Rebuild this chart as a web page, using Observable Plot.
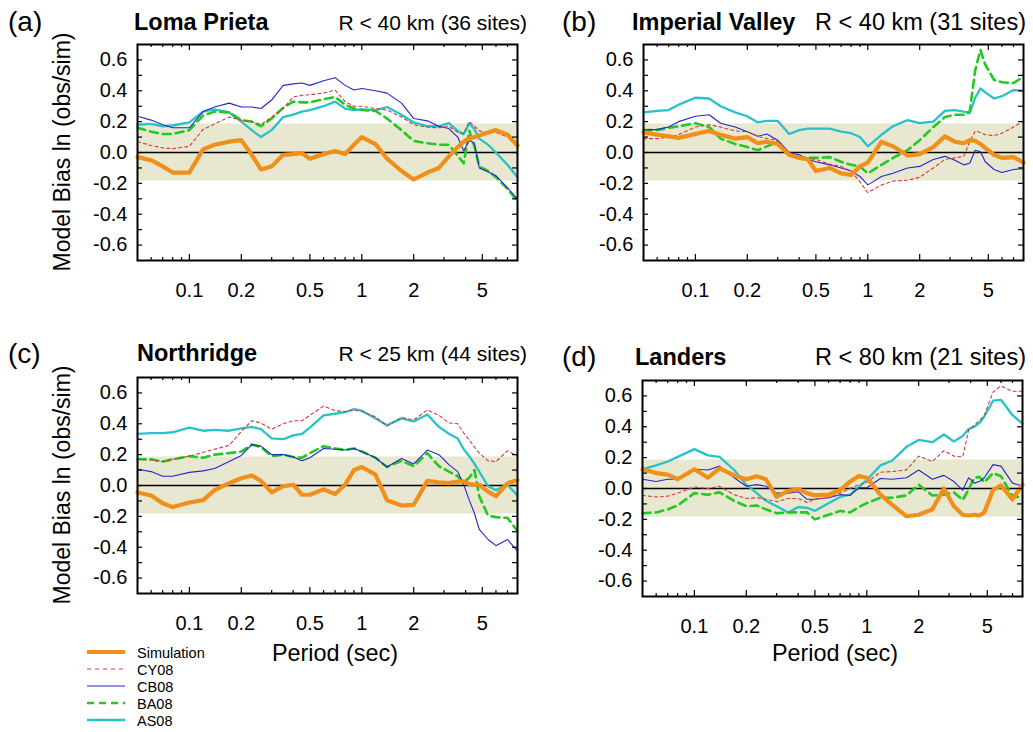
<!DOCTYPE html>
<html>
<head>
<meta charset="utf-8">
<script src="https://cdn.jsdelivr.net/npm/d3@7"></script>
<script src="https://cdn.jsdelivr.net/npm/@observablehq/plot@0.6"></script>
<style>
html, body { margin: 0; padding: 0; background: #fff; }
#root { position: relative; width: 1033px; height: 732px; overflow: hidden; font-family: "Liberation Sans", Arial, Helvetica, sans-serif; }
.panel { position: absolute; }
#overlay { position: absolute; left: 0; top: 0; pointer-events: none; }
</style>
</head>
<body>
<div id="root"></div>
<script>
// ---------- data ----------
const periods = [0.05,0.06,0.07,0.08,0.1,0.12,0.14,0.17,0.2,0.23,0.26,0.3,0.35,0.4,0.45,0.5,0.6,0.7,0.8,0.9,1,1.2,1.4,1.7,2,2.4,2.8,3.2,3.6,3.9,4.2,4.5,4.8,5.4,6,7,8];

// (a) Loma Prieta
const lomaSim  = [-0.03,-0.05,-0.09,-0.13,-0.13,0.02,0.05,0.07,0.08,-0.015,-0.11,-0.09,-0.015,-0.01,-0.005,-0.04,-0.01,0.01,-0.01,0.05,0.10,0.055,-0.04,-0.12,-0.175,-0.13,-0.10,-0.025,0.035,0.07,0.09,0.10,0.11,0.13,0.145,0.115,0.045];
const lomaCY08 = [0.07,0.045,0.03,0.025,0.04,0.15,0.185,0.23,0.21,0.20,0.18,0.23,0.285,0.36,0.37,0.375,0.385,0.405,0.33,0.30,0.30,0.285,0.275,0.23,0.18,0.165,0.16,0.17,0.13,0.12,0.20,0.17,0.14,0.13,0.13,0.10,0.05];
const lomaCB08 = [0.235,0.21,0.18,0.16,0.16,0.265,0.295,0.32,0.295,0.295,0.285,0.34,0.435,0.445,0.45,0.435,0.465,0.485,0.435,0.405,0.415,0.40,0.385,0.32,0.22,0.205,0.17,0.155,0.10,0.01,0.08,0.06,-0.10,-0.125,-0.15,-0.23,-0.30];
const lomaBA08 = [0.16,0.135,0.12,0.12,0.145,0.24,0.265,0.26,0.21,0.20,0.17,0.22,0.29,0.33,0.325,0.325,0.345,0.36,0.31,0.285,0.275,0.27,0.22,0.145,0.075,0.06,0.05,0.05,-0.02,-0.07,0.14,0.04,-0.09,-0.12,-0.16,-0.235,-0.315];
const lomaAS08 = [0.18,0.185,0.17,0.175,0.195,0.265,0.28,0.26,0.20,0.145,0.10,0.145,0.23,0.245,0.265,0.275,0.30,0.33,0.285,0.275,0.28,0.275,0.295,0.245,0.195,0.17,0.17,0.19,0.14,0.12,0.19,0.15,0.09,0.05,0.0,-0.08,-0.16];

// (b) Imperial Valley
const impSim  = [0.13,0.115,0.105,0.095,0.12,0.14,0.115,0.09,0.10,0.06,0.07,0.055,-0.015,-0.035,-0.045,-0.12,-0.10,-0.135,-0.145,-0.09,-0.065,0.07,0.04,-0.02,-0.01,0.035,0.105,0.07,0.06,0.08,0.075,0.055,0.03,-0.015,-0.035,-0.03,-0.065];
const impCY08 = [0.09,0.09,0.10,0.115,0.165,0.18,0.165,0.14,0.135,0.105,0.09,0.08,-0.015,-0.025,-0.035,-0.045,-0.075,-0.09,-0.12,-0.19,-0.26,-0.21,-0.185,-0.18,-0.16,-0.10,-0.045,-0.035,-0.025,0.07,0.14,0.13,0.115,0.11,0.125,0.165,0.205];
const impCB08 = [0.145,0.15,0.165,0.20,0.235,0.245,0.19,0.165,0.135,0.105,0.12,0.08,0.0,-0.015,-0.045,-0.06,-0.08,-0.10,-0.12,-0.155,-0.21,-0.155,-0.135,-0.10,-0.09,-0.045,-0.025,-0.05,-0.08,-0.07,0.015,0.005,-0.06,-0.11,-0.13,-0.11,-0.105];
const impBA08 = [0.145,0.145,0.16,0.17,0.19,0.165,0.09,0.055,0.035,0.015,0.04,0.07,-0.015,-0.03,-0.035,-0.035,-0.03,-0.06,-0.08,-0.09,-0.135,-0.08,-0.035,0.015,0.08,0.165,0.23,0.245,0.245,0.265,0.535,0.665,0.57,0.47,0.455,0.45,0.49];
const impAS08 = [0.26,0.27,0.275,0.31,0.355,0.35,0.30,0.26,0.235,0.195,0.205,0.205,0.12,0.145,0.155,0.155,0.155,0.135,0.125,0.10,0.04,0.115,0.17,0.21,0.19,0.20,0.27,0.275,0.265,0.255,0.355,0.415,0.39,0.35,0.365,0.405,0.40];

// (c) Northridge
const norSim  = [-0.045,-0.065,-0.115,-0.14,-0.11,-0.095,-0.03,0.015,0.047,0.065,0.03,-0.045,-0.005,0.005,-0.06,-0.06,-0.025,-0.055,0.005,0.10,0.12,0.07,-0.095,-0.13,-0.125,0.03,0.02,0.015,0.025,0.025,0.01,0.005,0.005,-0.04,-0.07,0.015,0.035];
const norCY08 = [0.17,0.165,0.155,0.17,0.19,0.215,0.235,0.26,0.35,0.42,0.405,0.365,0.40,0.42,0.42,0.455,0.515,0.485,0.48,0.49,0.48,0.445,0.385,0.44,0.425,0.49,0.455,0.405,0.40,0.34,0.295,0.25,0.21,0.16,0.155,0.225,0.19];
const norCB08 = [0.105,0.09,0.06,0.06,0.085,0.095,0.11,0.155,0.195,0.265,0.255,0.20,0.20,0.185,0.16,0.18,0.24,0.235,0.23,0.24,0.22,0.18,0.12,0.175,0.14,0.23,0.20,0.135,0.09,0.005,-0.095,-0.18,-0.285,-0.35,-0.39,-0.35,-0.425];
const norBA08 = [0.17,0.17,0.155,0.17,0.19,0.18,0.20,0.21,0.22,0.265,0.25,0.19,0.20,0.185,0.18,0.21,0.255,0.24,0.23,0.24,0.22,0.18,0.12,0.16,0.125,0.21,0.125,0.09,0.06,0.02,0.05,0.10,-0.07,-0.195,-0.205,-0.21,-0.295];
const norAS08 = [0.335,0.34,0.34,0.345,0.375,0.355,0.36,0.355,0.37,0.38,0.365,0.305,0.30,0.325,0.335,0.375,0.455,0.465,0.475,0.495,0.485,0.435,0.39,0.435,0.415,0.46,0.38,0.335,0.305,0.235,0.19,0.14,0.09,-0.005,-0.03,0.005,-0.065];

// (d) Landers
const lanSim  = [0.125,0.10,0.09,0.06,0.125,0.07,0.13,0.085,0.06,0.08,0.06,-0.055,-0.015,-0.005,-0.03,-0.045,-0.04,-0.01,0.045,0.08,0.07,-0.04,-0.105,-0.18,-0.17,-0.135,0.0,-0.115,-0.17,-0.175,-0.17,-0.175,-0.155,-0.01,0.02,-0.07,0.025];
const lanCY08 = [-0.045,-0.055,-0.05,-0.03,0.01,0.0,0.015,-0.04,-0.065,-0.06,-0.07,-0.085,-0.065,-0.065,-0.09,-0.07,-0.06,-0.03,0.0,0.025,0.04,0.105,0.11,0.12,0.21,0.175,0.245,0.21,0.205,0.38,0.41,0.44,0.475,0.625,0.665,0.63,0.63];
const lanCB08 = [0.06,0.045,0.06,0.06,0.125,0.12,0.145,0.07,0.015,0.025,0.015,-0.03,-0.03,-0.02,-0.07,-0.07,-0.06,-0.04,-0.045,0.005,0.005,0.065,0.06,0.07,0.12,0.06,0.085,0.045,-0.01,0.07,0.035,0.045,0.07,0.155,0.145,0.035,0.015];
const lanBA08 = [-0.16,-0.155,-0.135,-0.11,-0.03,-0.04,-0.025,-0.08,-0.115,-0.11,-0.135,-0.16,-0.155,-0.155,-0.155,-0.2,-0.17,-0.145,-0.155,-0.12,-0.095,-0.06,-0.06,-0.045,0.025,-0.045,-0.04,-0.025,-0.075,-0.005,0.07,0.075,0.04,0.10,0.08,-0.05,-0.06];
const lanAS08 = [0.125,0.15,0.175,0.205,0.255,0.215,0.205,0.12,0.025,-0.03,-0.08,-0.115,-0.155,-0.12,-0.125,-0.145,-0.095,-0.055,-0.04,0.01,0.055,0.15,0.18,0.27,0.315,0.30,0.35,0.305,0.34,0.385,0.40,0.425,0.465,0.57,0.575,0.475,0.42];

const xLabels = [0.1, 0.2, 0.5, 1, 2, 5];
const xMinor = [0.06,0.07,0.08,0.09,0.3,0.4,0.6,0.7,0.8,0.9,3,4,6,7];
const yLabels = [-0.6,-0.4,-0.2,0,0.2,0.4,0.6];
const yMinor = [-0.6,-0.5,-0.4,-0.3,-0.2,-0.1,0,0.1,0.2,0.3,0.4,0.5,0.6];
const bandHalf = 0.185;
const xDomain = [0.05, 8];
const yDomain = [-0.7, 0.7];

const panels = [
  {tag:"(a)", name:"Loma Prieta",     sub:"R < 40 km (36 sites)", sim:lomaSim, cy:lomaCY08, cb:lomaCB08, ba:lomaBA08, as:lomaAS08},
  {tag:"(b)", name:"Imperial Valley", sub:"R < 40 km (31 sites)", sim:impSim,  cy:impCY08,  cb:impCB08,  ba:impBA08,  as:impAS08},
  {tag:"(c)", name:"Northridge",      sub:"R < 25 km (44 sites)", sim:norSim,  cy:norCY08,  cb:norCB08,  ba:norBA08,  as:norAS08},
  {tag:"(d)", name:"Landers",         sub:"R < 80 km (21 sites)", sim:lanSim,  cy:lanCY08,  cb:lanCB08,  ba:lanBA08,  as:lanAS08}
];

// ---------- styles / layout ----------
const FONT = '"Liberation Sans", Arial, Helvetica, sans-serif';
const styles = {
  AS08:       {key:"as",  stroke:"#27c3c8", width:2.3, dash:null},
  BA08:       {key:"ba",  stroke:"#22c922", width:2.6, dash:"8,5"},
  CB08:       {key:"cb",  stroke:"#2626cc", width:1.1, dash:null},
  CY08:       {key:"cy",  stroke:"#d43a3a", width:1.1, dash:"3,3"},
  Simulation: {key:"sim", stroke:"#f0901a", width:4.2, dash:null}
};
const drawOrder = ["AS08","BA08","CB08","CY08","Simulation"];
const legendOrder = ["Simulation","CY08","CB08","BA08","AS08"];

const layout = [
  {left:137, top:44,  tagX:8,   tagY:31,  nameX:134, nameY:30,  subEnd:527,  subY:30,  subSize:21},
  {left:643, top:44,  tagX:562, tagY:31,  nameX:632, nameY:30,  subEnd:1026, subY:30,  subSize:23.5},
  {left:137, top:377, tagX:8,   tagY:363, nameX:137, nameY:361, subEnd:527,  subY:361, subSize:21},
  {left:642, top:380, tagX:562, tagY:366, nameX:635, nameY:365, subEnd:1026, subY:365, subSize:23.5}
];
const FW = 380, FH = 216, ML = 62, MR = 8, MT = 8, MB = 44;

const root = document.getElementById("root");

panels.forEach((p, k) => {
  const L = layout[k];
  const lines = drawOrder.map(name => {
    const s = styles[name];
    const vals = p[s.key];
    const rows = periods.map((per, i) => ({period: per, value: vals[i]}));
    return Plot.line(rows, {x: "period", y: "value", stroke: s.stroke, strokeWidth: s.width,
      strokeDasharray: s.dash, strokeLinejoin: "round"});
  });
  const chart = Plot.plot({
    width: ML + FW + MR, height: MT + FH + MB,
    marginLeft: ML, marginRight: MR, marginTop: MT, marginBottom: MB,
    x: {type: "log", domain: xDomain, axis: null},
    y: {domain: yDomain, axis: null},
    style: {fontFamily: FONT, fontSize: "20px", color: "#000", background: "transparent", overflow: "visible"},
    marks: [
      Plot.rect([{lo: -bandHalf, hi: bandHalf}], {x1: () => xDomain[0], x2: () => xDomain[1], y1: "lo", y2: "hi", fill: "#e8e7d0"}),
      Plot.ruleY([0], {stroke: "#000", strokeWidth: 1.5}),
      ...lines,
      Plot.tickX(xLabels, {x: d => d, insetTop: FH - 6, stroke: "#000", strokeWidth: 1.2}),
      Plot.tickX(xLabels, {x: d => d, insetBottom: FH - 6, stroke: "#000", strokeWidth: 1.2}),
      Plot.tickX(xMinor, {x: d => d, insetTop: FH - 3, stroke: "#000", strokeWidth: 1.2}),
      Plot.tickX(xMinor, {x: d => d, insetBottom: FH - 3, stroke: "#000", strokeWidth: 1.2}),
      Plot.tickY(yMinor, {y: d => d, insetLeft: FW - 5, stroke: "#000", strokeWidth: 1.2}),
      Plot.tickY(yMinor, {y: d => d, insetRight: FW - 5, stroke: "#000", strokeWidth: 1.2}),
      Plot.frame({stroke: "#000", strokeWidth: 2}),
      Plot.text(xLabels, {x: d => d, frameAnchor: "bottom", lineAnchor: "top", dy: 22,
        text: d => String(d), fontSize: 20, fill: "#000"}),
      Plot.text(yLabels, {y: d => d, frameAnchor: "left", textAnchor: "end", dx: -10,
        text: d => d.toFixed(1), fontSize: 20, fill: "#000"})
    ]
  });
  const wrap = document.createElement("div");
  wrap.className = "panel";
  wrap.style.left = (L.left - ML) + "px";
  wrap.style.top = (L.top - MT) + "px";
  wrap.appendChild(chart);
  root.appendChild(wrap);
});

// ---------- text overlay: titles, axis titles, legend ----------
const svg = d3.create("svg").attr("id", "overlay").attr("width", 1033).attr("height", 732)
  .style("font-family", FONT);

panels.forEach((p, k) => {
  const L = layout[k];
  svg.append("text").attr("x", L.tagX).attr("y", L.tagY).attr("font-size", 28).text(p.tag);
  svg.append("text").attr("x", L.nameX).attr("y", L.nameY).attr("font-size", 23.5).attr("font-weight", "bold").text(p.name);
  svg.append("text").attr("x", L.subEnd).attr("y", L.subY).attr("font-size", L.subSize).attr("text-anchor", "end").text(p.sub);
});

// y-axis titles (left column)
[layout[0], layout[2]].forEach(L => {
  const cy = L.top + FH / 2;
  svg.append("text").attr("transform", `translate(70,${cy}) rotate(-90)`).attr("text-anchor", "middle")
    .attr("font-size", 23).text("Model Bias ln (obs/sim)");
});

// x-axis titles (bottom row)
svg.append("text").attr("x", 335).attr("y", 661).attr("text-anchor", "middle").attr("font-size", 23.4).text("Period (sec)");
svg.append("text").attr("x", 835).attr("y", 661).attr("text-anchor", "middle").attr("font-size", 23.4).text("Period (sec)");

// legend
const legendY = [652, 669, 686, 703, 720];
legendOrder.forEach((name, i) => {
  const s = styles[name];
  svg.append("line").attr("x1", 87).attr("x2", 125).attr("y1", legendY[i]).attr("y2", legendY[i])
    .attr("stroke", s.stroke).attr("stroke-width", Math.min(s.width, 4))
    .attr("stroke-dasharray", name === "BA08" ? "7,5" : (name === "CY08" ? "4,4" : null));
  svg.append("text").attr("x", 137).attr("y", legendY[i] + 5.5).attr("font-size", 14.5).text(name);
});

root.appendChild(svg.node());
</script>
</body>
</html>
